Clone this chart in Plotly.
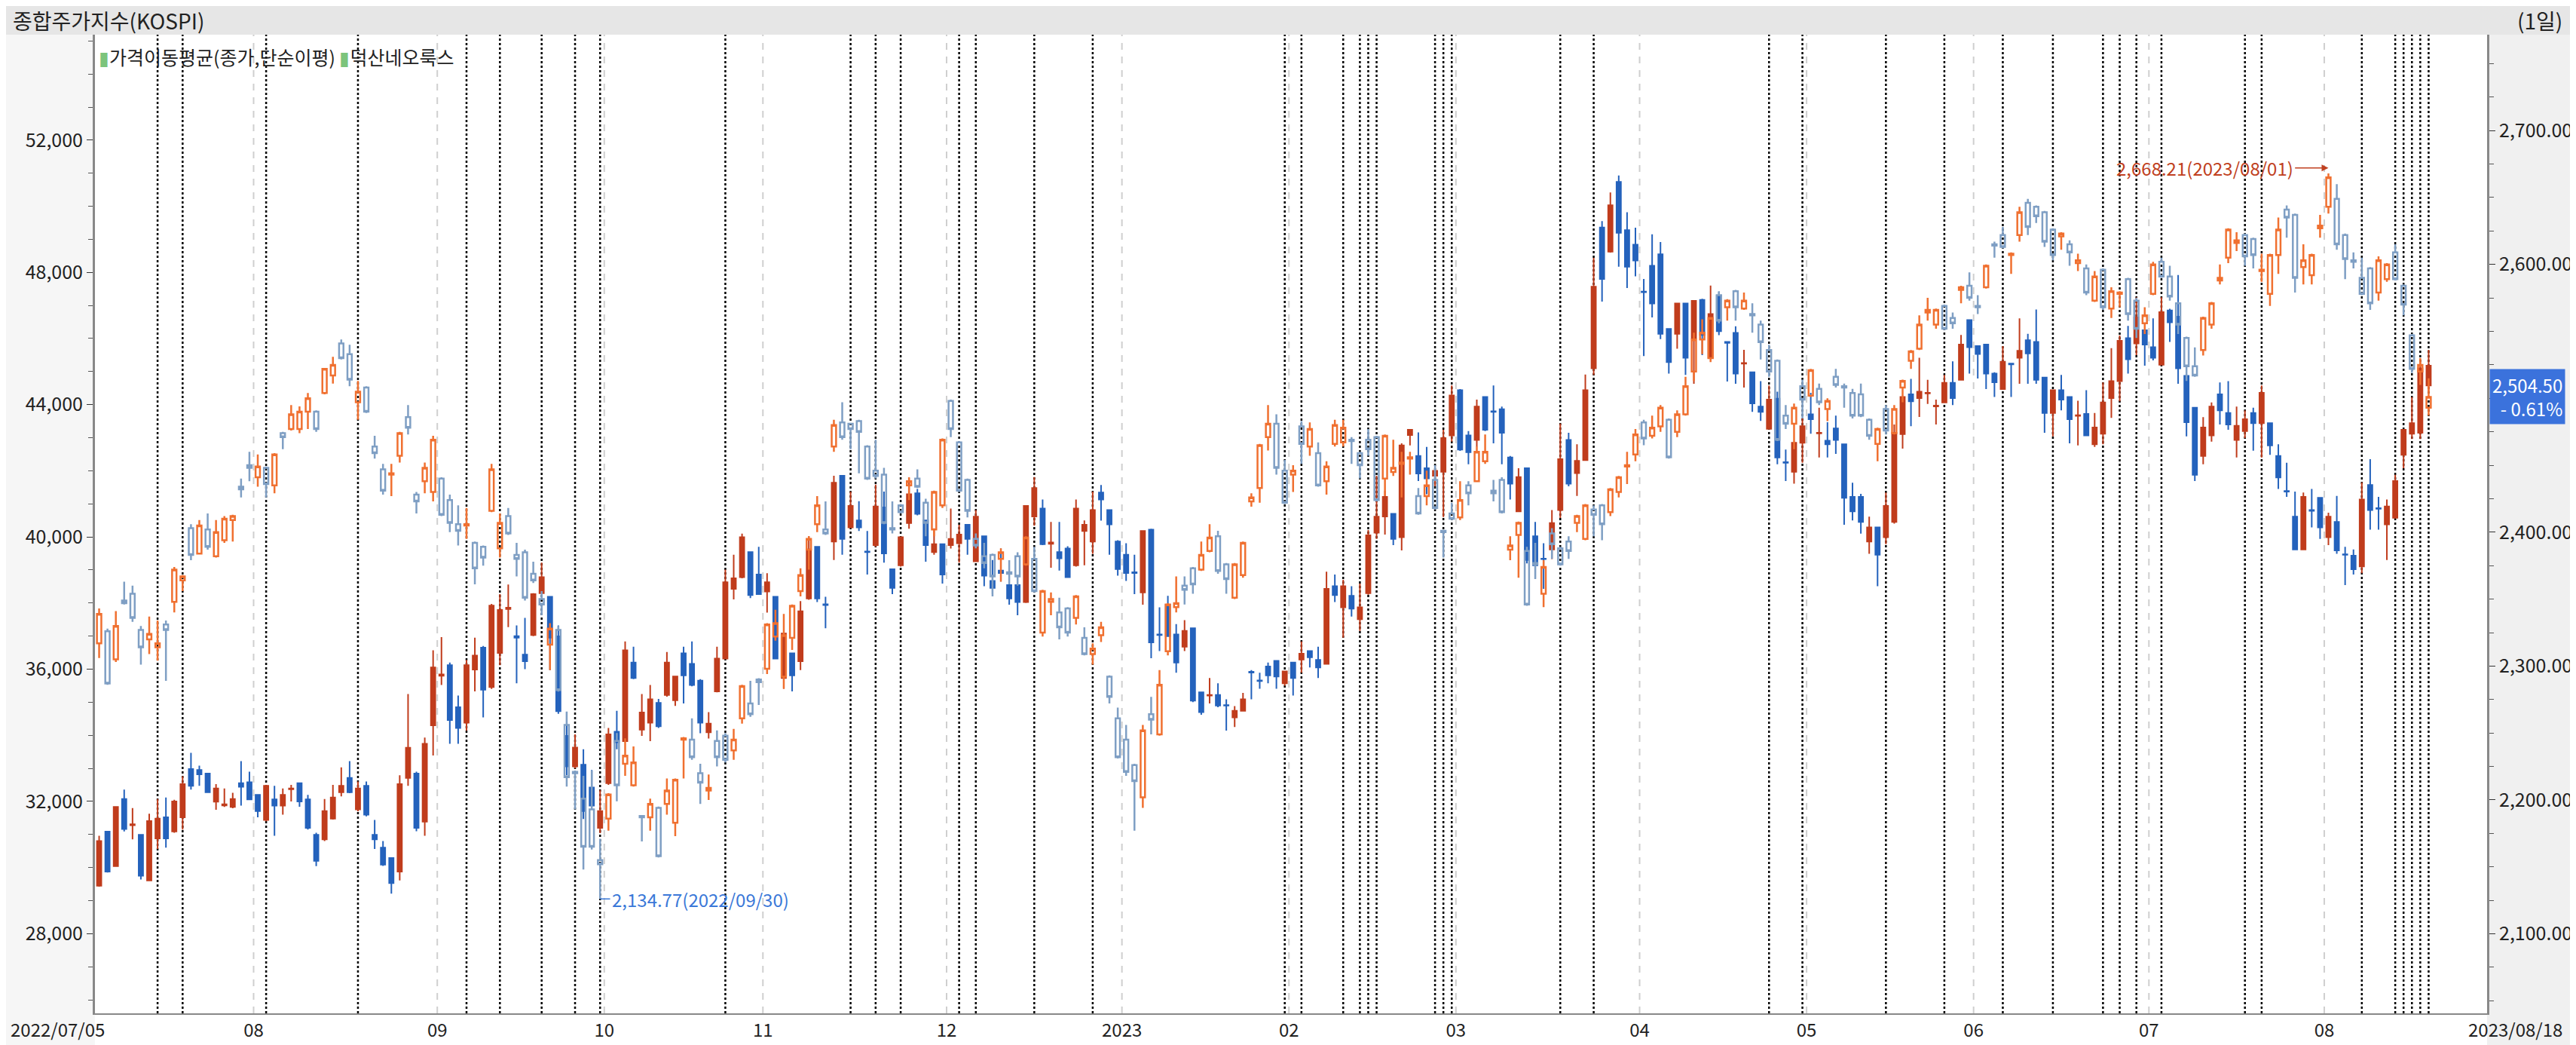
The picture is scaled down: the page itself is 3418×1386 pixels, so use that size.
import plotly.graph_objects as go

# 덕산네오룩스 daily candles, (open, high, low, close), one list per month
dk_2207 = [(29452,30960,29420,30802),(31088,31100,29850,29880),(30040,31850,30020,31835),(32073,32360,31090,31168),
           (31280,31800,30850,31310),(30990,30990,29640,29750),(29610,31630,29600,31405),(30880,32070,30560,31480),
           (31520,32120,30600,30880),(31090,32050,31050,32000),(31520,32760,31150,32520),(32980,33470,32360,32470),
           (32950,33080,32470,32820),(32840,32860,32260,32280),(31990,32520,31750,32390),(31880,32390,31830,31910),
           (31830,32260,31790,32070),(32550,33220,31870,32440),(32580,32900,32040,32060)]
dk_2208 = [(32200,32220,31520,31710),(31440,32500,31400,32470),(32060,32470,30960,31870),(31870,32390,31600,32200),
           (32370,32500,32000,32390),(32550,32560,31840,32000),(32060,32200,31150,31200),(30990,31050,30040,30200),
           (30850,32070,30800,31710),(31480,32500,31450,32120),(32280,33030,32150,32470),(32710,33220,32250,32280),
           (31760,32600,31700,32390),(32470,32600,31550,31600),(30990,31440,30560,30850),(30600,30800,30050,30090),
           (30290,30300,29210,29530),(29880,32790,29610,32520),(32710,35250,32470,33620),(32840,32900,31100,31200),
           (31390,33930,30960,33740),(34300,36570,33390,36050)]
dk_2209 = [(35800,36970,35520,35840),(36120,36200,33740,34460),(34850,35200,33740,34220),(34380,36280,34140,36120),
           (35990,36950,35330,36410),(36650,36700,34540,35380),(35460,37970,35400,37920),(36490,38270,36120,37790),
           (37820,38560,37270,37860),(37000,37320,35570,36950),(36440,37550,36000,36240),(37030,38300,37000,38270),
           (38300,39220,38270,38780),(38190,38200,35970,36950),(36990,37320,34650,34730),(33980,34700,32790,33060),
           (33060,34030,33000,33630),(33110,33580,31470,31710),(32420,32950,31830,31870),(31200,32340,31040,31710)]
dk_2210 = [(32550,34220,32500,34030),(34110,34740,33580,33790),(33820,36840,33800,36570),(36200,36680,35700,35730),
           (34170,35250,33980,34690),(34380,35520,33820,35090),(34980,35100,34220,34270),(35220,36520,35170,36200),
           (35060,35800,34890,35780),(36480,36680,34960,35810),(36160,36840,35480,35520),(35650,35700,34060,34380),
           (34090,34700,33900,34350),(35330,36680,35300,36320),(36320,39010,36300,38630),(38430,39460,38110,38750),
           (38780,40100,38750,39990),(39540,39560,38150,38240),(38860,39700,38250,38270)]
dk_2211 = [(38350,38900,37710,38630),(38190,38200,36300,36320),(35730,37100,35410,37080),(36480,36500,35330,35810),
           (36240,38060,35970,37750),(38140,40020,38100,39620),(39700,39720,38030,38140),(37960,38190,37240,37940),
           (39860,41850,39300,41640),(41850,41860,39460,39940),(40290,41370,40280,40940),(40500,41080,40180,40290),
           (39560,40180,38860,39540),(39750,41580,39700,40920),(40890,41370,39220,39500),(39020,39030,38270,38460),
           (39140,40000,39100,39990),(40420,41770,40250,41290),(41320,41450,40650,40700),(40500,40510,39250,39750),
           (39540,40260,39460,39780),(39780,39800,38590,38860)]
dk_2212 = [(39750,40860,39650,39940),(39810,40370,39220,40070),(40370,40380,39460,39940),(39260,40810,39250,40610),
           (40020,40030,38510,38830),(38670,39300,38270,38460),(38980,39650,38650,38910),(38540,38560,37950,38140),
           (38540,38550,37630,38030),(38030,40960,38000,40940),(40620,41810,40340,41480),(40860,41130,39750,39780),
           (39790,40450,39070,39830),(39540,40450,38980,39350),(39650,39720,38760,38780),(39140,41130,39100,40860),
           (40180,40500,39140,40370),(39860,41370,39490,40810),(41340,41570,40490,41130),(40810,40820,39460,40380),
           (39860,39900,38830,39030)]
dk_2301 = [(39460,39810,38670,38910),(38930,39460,38270,38910),(38320,40200,37950,40180),(40220,40250,36330,36810),
           (37050,37870,36550,37030),(37950,38220,36980,37000),(37050,37360,35890,36200),(36680,37480,36550,37160),
           (37240,37260,35000,35050),(35300,35310,34620,34700),(35200,35730,34960,35220),(35220,35570,34850,34900),
           (34910,35090,34140,34900),(34540,34880,34250,34740),(34740,35280,34720,35090),(35920,35970,35090,35900),
           (35660,35890,35410,35640),(36080,36200,35570,35810),(36250,36260,35410,35780),(35570,35950,35500,35930)]
dk_2302 = [(36200,36210,35200,35730),(36290,36840,35890,36470),(36550,36560,36050,36360),(36280,36680,35730,36050),
           (36160,38950,36150,38430),(38510,38860,38030,38240),(37870,38700,36950,38510),(38220,38510,37590,37830),
           (37510,38590,37160,37870),(38300,40210,38250,40050),(40130,41850,39940,40610),(40620,41400,40070,41210),
           (40700,40710,39750,39940),(39990,42830,39590,42770),(43080,43250,42770,43240),(42450,43160,41690,41920),
           (42080,42720,41290,41770),(41850,42160,41530,42000),(41970,43240,40600,42990),(43070,44580,42880,44280)]
dk_2303 = [(44440,44470,42600,42640),(43070,43200,42200,42560),(42930,44150,42720,43940),(44230,44250,43200,43240),
           (43800,44580,42830,43780),(43860,43940,42200,43150),(42400,42450,41130,41610),(40770,42080,40760,41810),
           (42080,42100,39200,39300),(40020,40450,38750,39140),(39340,39810,38430,39330),(39620,40810,39330,40420),
           (40810,43430,40570,42350),(42930,43150,41530,41610),(41930,42800,41240,42300),(42320,44910,42300,44440),
           (45100,48440,44900,47570),(49360,49550,47120,47800),(48630,50420,48600,50030),(50740,50930,48170,49200),
           (49280,49820,47530,48170),(48840,49350,47880,48360)]
dk_2304 = [(47420,47800,45470,47400),(48200,49150,46640,47060),(48550,48920,45980,46140),(46290,46300,44940,45290),
           (46140,47070,45690,47060),(47060,47070,44900,45420),(46010,47150,44630,47140),(47170,47200,45500,46110),
           (45420,47600,45400,46740),(47300,47410,46100,46220),(45900,45900,44700,45870),(46170,46370,44630,44940),
           (45240,45660,44520,45260),(44980,45000,43780,44040),(43940,44710,43510,43780),(43270,44580,43260,44150),
           (44180,44390,42200,42400),(42260,42640,41690,42240),(41970,42860,41610,42850),(42850,43590,42240,43350)]
dk_2305 = [(43710,44360,43120,43560),(43130,43910,42400,43150),(42910,43470,42400,42800),(43280,43670,42510,42930),
           (42800,42810,40370,41180),(41210,41640,40500,40770),(41210,41300,40100,40450),(39860,40610,39490,40290),
           (40290,40300,38510,39460),(39990,41340,39780,40940),(40450,43400,40400,43150),(43110,44250,42670,44230),
           (44310,44780,43350,44100),(44200,45420,43630,44390),(44340,44750,44020,44360),(43950,44150,43400,43970),
           (44070,44900,44050,44660),(44660,45310,43990,44200),(44750,46110,44740,45820),(46560,46570,44940,45740)]
dk_2306 = [(45770,45780,44790,45530),(45820,45830,44470,44940),(44940,44980,44230,44680),(44470,45770,44450,45300),
           (45240,45250,44230,45220),(45420,46610,44630,45630),(45950,46140,44630,45550),(45900,46880,44630,44750),
           (44820,44830,43150,43750),(43750,44450,43040,44440),(44440,44900,43830,44150),(44230,44240,42830,43560),
           (43660,44120,42770,43680),(43720,44440,43060,43070),(42800,43750,42720,43310),(43120,44670,42800,44070),
           (44200,45710,43600,44710),(44710,46090,44100,45930),(46010,46380,44940,45370),(45850,47250,45500,46640),
           (46250,46260,45180,45820)]
dk_2307 = [(45740,46610,45340,45420),(45210,47250,45200,46800),(46850,46900,45900,46490),(46660,47920,44630,45100),
           (44870,44880,43040,43470),(43910,43920,41690,41880),(42450,43620,42200,43310),(43070,44070,42880,43940),
           (44310,44670,43400,43830),(43750,44710,43240,43400),(42930,43940,42400,43360),(43200,43830,42990,43560),
           (43750,43910,42610,43440),(43440,44580,42400,44360),(43440,43450,42480,42770),(42450,42800,41450,41800),
           (41390,42240,41210,41370),(40610,41370,39600,39620),(39620,41340,39600,41210),(40810,41450,40290,40790),
           (41180,41190,39940,40290)]
dk_2308 = [(39990,40730,39750,40610),(40450,41240,39490,39590),(39470,39700,38540,39460),(39430,39620,38860,39020),
           (39110,41650,38900,41130),(41570,42350,40220,40810),(40870,41210,40220,40850),(40380,41130,39300,40920),
           (40580,41880,40570,41690),(42480,43250,42080,43240),(43120,44230,42960,43440),(43150,45340,42960,45100),
           (44580,45660,44390,45180)]

# 종합주가지수(KOSPI) daily candles, (open, high, low, close)
ks_2207 = [(2317,2343,2306,2339),(2326,2328,2286,2287),(2305,2341,2303,2330),(2349,2363,2346,2347),(2354,2360,2333,2336),
           (2327,2330,2301,2314),(2320,2337,2309,2324),(2314,2334,2304,2317),(2331,2334,2289,2327),(2348,2374,2340,2372),
           (2364,2368,2356,2367),(2403,2406,2379,2383),(2384,2409,2384,2405),(2402,2414,2387,2389),(2382,2409,2381,2400),
           (2394,2412,2392,2410),(2409,2413,2393,2412),(2434,2440,2426,2432),(2450,2460,2438,2448)]
ks_2208 = [(2441,2458,2434,2449),(2448,2449,2426,2436),(2435,2459,2429,2458),(2474,2475,2462,2471),(2477,2495,2476,2488),
           (2477,2494,2474,2490),(2490,2504,2477,2500),(2490,2491,2475,2477),(2504,2522,2503,2522),(2517,2531,2511,2525),
           (2541,2544,2529,2530),(2533,2540,2509,2514),(2497,2513,2484,2505),(2508,2509,2489,2490),(2464,2472,2455,2459),
           (2447,2451,2428,2431),(2443,2451,2427,2444),(2457,2475,2452,2474),(2486,2495,2473,2478),(2428,2430,2414,2423),
           (2438,2452,2429,2448),(2430,2472,2423,2469)]
ks_2209 = [(2440,2441,2412,2413),(2424,2428,2400,2407),(2406,2420,2390,2401),(2405,2418,2395,2406),(2392,2393,2361,2373),
           (2389,2390,2375,2381),(2416,2451,2415,2447),(2388,2414,2381,2407),(2412,2418,2398,2399),(2383,2392,2367,2380),
           (2385,2387,2349,2351),(2369,2378,2362,2364),(2350,2356,2338,2346),(2316,2332,2297,2328),(2327,2330,2281,2282),
           (2256,2266,2210,2217),(2221,2222,2193,2220),(2201,2218,2148,2165),(2193,2222,2163,2165),(2155,2171,2126,2152)]
ks_2210 = [(2186,2205,2177,2204),(2244,2250,2199,2211),(2227,2246,2218,2233),(2211,2240,2210,2228),(2188,2188,2169,2187),
           (2187,2201,2177,2197),(2194,2195,2157,2158),(2197,2216,2189,2207),(2183,2216,2173,2215),(2245,2247,2216,2246),
           (2245,2261,2230,2232),(2220,2227,2197,2213),(2207,2219,2200,2209),(2244,2252,2225,2232),(2248,2250,2228,2230),
           (2237,2253,2230,2245),(2261,2286,2257,2285),(2272,2289,2262,2264),(2290,2291,2271,2288)]
ks_2211 = [(2298,2332,2294,2331),(2322,2342,2319,2332),(2292,2339,2283,2323),(2321,2346,2312,2345),(2356,2373,2352,2368),
           (2387,2397,2372,2395),(2406,2427,2400,2420),(2402,2423,2398,2399),(2464,2484,2460,2480),(2482,2497,2469,2471),
           (2481,2481,2462,2477),(2483,2484,2444,2475),(2464,2465,2439,2440),(2446,2469,2440,2442),(2443,2448,2406,2407),
           (2403,2423,2399,2402),(2420,2421,2414,2415),(2435,2441,2424,2438),(2440,2447,2433,2434),(2422,2425,2397,2407),
           (2402,2431,2397,2430),(2420,2470,2418,2469)]
ks_2212 = [(2498,2499,2471,2477),(2467,2468,2430,2431),(2439,2440,2411,2416),(2395,2399,2388,2390),(2382,2392,2373,2377),
           (2383,2384,2352,2367),(2380,2388,2363,2385),(2370,2379,2361,2369),(2382,2385,2360,2367),(2376,2397,2375,2396),
           (2380,2389,2355,2356),(2325,2357,2322,2356),(2348,2355,2338,2350),(2340,2351,2320,2329),(2343,2344,2322,2325),
           (2336,2353,2331,2352),(2321,2329,2308,2309),(2309,2317,2301,2313),(2323,2333,2318,2329),(2292,2293,2272,2277),
           (2261,2269,2231,2232)]
ks_2301 = [(2245,2256,2218,2221),(2226,2227,2177,2214),(2202,2256,2194,2252),(2264,2277,2249,2260),(2249,2297,2248,2286),
           (2311,2347,2308,2346),(2344,2367,2340,2347),(2360,2367,2346,2357),(2373,2374,2354,2361),(2372,2393,2371,2383),
           (2386,2406,2385,2396),(2397,2401,2369,2371),(2376,2377,2354,2365),(2351,2377,2350,2376),(2368,2393,2366,2392),
           (2423,2429,2419,2426),(2433,2466,2422,2465),(2471,2495,2461,2481),(2481,2488,2443,2448),(2446,2454,2421,2422)]
ks_2302 = [(2443,2450,2430,2446),(2479,2483,2451,2466),(2464,2482,2457,2477),(2459,2467,2434,2435),(2438,2453,2428,2449),
           (2466,2484,2464,2480),(2467,2484,2464,2478),(2469,2471,2451,2468),(2459,2460,2440,2450),(2469,2477,2457,2462),
           (2471,2472,2423,2424),(2440,2473,2427,2472),(2445,2469,2442,2448),(2451,2460,2426,2452),(2455,2460,2443,2456),
           (2427,2433,2413,2414),(2427,2446,2420,2435),(2439,2450,2417,2418),(2401,2401,2381,2400),(2414,2422,2409,2410)]
ks_2303 = [(2411,2438,2409,2424),(2435,2438,2420,2429),(2438,2464,2438,2460),(2453,2473,2451,2460),(2431,2439,2423,2429),
           (2439,2441,2414,2415),(2387,2397,2379,2390),(2398,2408,2366,2407),(2386,2389,2345,2346),(2377,2392,2365,2376),
           (2354,2379,2344,2374),(2399,2403,2380,2391),(2388,2389,2375,2376),(2393,2397,2380,2386),(2407,2413,2400,2412),
           (2395,2421,2394,2420),(2417,2420,2397,2413),(2420,2421,2394,2406),(2415,2433,2412,2432),(2430,2442,2426,2441),
           (2449,2460,2436,2450),(2458,2477,2453,2473)]
ks_2304 = [(2482,2484,2465,2470),(2472,2487,2470,2478),(2479,2495,2475,2493),(2484,2485,2455,2456),(2475,2491,2471,2488),
           (2488,2516,2487,2509),(2520,2549,2513,2544),(2544,2559,2533,2549),(2530,2560,2527,2560),(2577,2580,2556,2558),
           (2568,2574,2558,2573),(2580,2581,2558,2568),(2567,2579,2566,2573),(2563,2571,2549,2562),(2555,2558,2529,2542),
           (2536,2540,2516,2520),(2528,2529,2468,2469),(2487,2495,2477,2481),(2481,2496,2462,2493),(2509,2514,2485,2499)]
ks_2305 = [(2502,2522,2501,2521),(2507,2511,2495,2497),(2492,2500,2483,2498),(2516,2522,2508,2510),(2509,2511,2493,2508),
           (2504,2507,2485,2487),(2503,2511,2486,2487),(2484,2485,2469,2472),(2466,2478,2453,2477),(2492,2495,2473,2476),
           (2474,2495,2473,2492),(2508,2514,2497,2513),(2528,2536,2522,2535),(2537,2562,2536,2555),(2564,2575,2558,2566),
           (2555,2567,2552,2566),(2569,2570,2551,2552),(2560,2564,2552,2556),(2581,2584,2571,2583),(2584,2594,2573,2575)]
ks_2306 = [(2569,2577,2563,2568),(2583,2600,2582,2599),(2615,2617,2605,2614),(2622,2628,2612,2613),(2607,2609,2593,2608),
           (2622,2643,2617,2639),(2646,2649,2622,2628),(2643,2644,2631,2636),(2639,2640,2613,2617),(2626,2627,2603,2607),
           (2621,2624,2611,2623),(2615,2618,2599,2609),(2601,2608,2595,2603),(2597,2600,2577,2579),(2573,2595,2572,2591),
           (2596,2597,2566,2568),(2567,2583,2560,2580),(2578,2580,2568,2579),(2589,2590,2558,2563),(2573,2575,2545,2552),
           (2556,2568,2548,2562)]
ks_2307 = [(2578,2602,2577,2600),(2602,2605,2590,2591),(2591,2599,2573,2576),(2571,2572,2548,2555),(2545,2546,2513,2524),
           (2524,2538,2516,2517),(2536,2561,2532,2560),(2555,2572,2552,2571),(2588,2600,2585,2590),(2605,2627,2601,2626),
           (2616,2624,2610,2618),(2622,2623,2599,2606),(2619,2620,2597,2607),(2595,2608,2587,2596),(2578,2608,2569,2607),
           (2607,2635,2593,2626),(2641,2644,2620,2635),(2637,2638,2579,2590),(2598,2615,2585,2603),(2592,2608,2585,2607),
           (2627,2637,2620,2629)]
ks_2308 = [(2643,2668,2638,2665),(2649,2660,2611,2615),(2622,2623,2589,2604),(2603,2609,2597,2602),(2590,2605,2577,2578),
           (2597,2598,2566,2571),(2579,2606,2573,2603),(2589,2601,2587,2600),(2609,2615,2588,2589),(2584,2585,2562,2570),
           (2547,2548,2519,2522),(2520,2530,2510,2525),(2493,2515,2487,2501)]

month_labels = ["07", "08", "09", "10", "11", "12", "2023", "02", "03", "04", "05", "06", "07", "08"]
event_days = [7, 10, 20, 31, 44, 48, 53, 57, 60, 75, 90, 93, 96, 103, 105, 112, 119, 142, 144, 149, 151, 152,
              153, 160, 161, 162, 175, 179, 200, 204, 214, 221, 228, 234, 240, 242, 244, 247, 257, 259, 271,
              275, 276, 277, 278, 279]

dk_months = [dk_2207, dk_2208, dk_2209, dk_2210, dk_2211, dk_2212, dk_2301, dk_2302, dk_2303, dk_2304,
             dk_2305, dk_2306, dk_2307, dk_2308]
ks_months = [ks_2207, ks_2208, ks_2209, ks_2210, ks_2211, ks_2212, ks_2301, ks_2302, ks_2303, ks_2304,
             ks_2305, ks_2306, ks_2307, ks_2308]

dk = [row for m in dk_months for row in m]
ks = [row for m in ks_months for row in m]
x = list(range(len(dk)))

month_start = []
n = 0
for m in dk_months:
    month_start.append(n)
    n += len(m)

FONT = "Liberation Sans Narrow, Noto Sans CJK KR, sans-serif"
KFONT = "Noto Sans CJK KR"

fig = go.Figure()

fig.add_trace(go.Candlestick(
    x=x, open=[r[0] for r in dk], high=[r[1] for r in dk], low=[r[2] for r in dk], close=[r[3] for r in dk],
    increasing=dict(line=dict(color="#c03c1c", width=2), fillcolor="#c03c1c"),
    decreasing=dict(line=dict(color="#2462bc", width=2), fillcolor="#2462bc"),
    whiskerwidth=0, yaxis="y", showlegend=False, name="덕산네오룩스"))

fig.add_trace(go.Candlestick(
    x=x, open=[r[0] for r in ks], high=[r[1] for r in ks], low=[r[2] for r in ks], close=[r[3] for r in ks],
    increasing=dict(line=dict(color="#f07030", width=2.5), fillcolor="rgba(0,0,0,0)"),
    decreasing=dict(line=dict(color="#7f9fc4", width=2.5), fillcolor="rgba(0,0,0,0)"),
    whiskerwidth=0, yaxis="y2", showlegend=False, name="종합주가지수"))

shapes = []
# month separators
for s in month_start[1:]:
    shapes.append(dict(type="line", xref="x", yref="paper", x0=s - 0.5, x1=s - 0.5, y0=0, y1=1,
                       line=dict(color="#cfcfcf", width=2, dash="dash"), layer="below"))
# event lines
for d in event_days:
    shapes.append(dict(type="line", xref="x", yref="paper", x0=d, x1=d, y0=0, y1=1,
                       line=dict(color="black", width=2.5, dash="dot"), layer="below"))
# header bar and side panels
shapes.append(dict(type="rect", xref="paper", yref="paper", x0=-0.04, x1=1.04, y0=1, y1=1.03,
                   fillcolor="#e6e6e6", line=dict(width=0), layer="below"))
shapes.append(dict(type="rect", xref="paper", yref="paper", x0=1, x1=1.04, y0=-0.035, y1=1,
                   fillcolor="#f0f0f0", line=dict(width=0), layer="below"))
shapes.append(dict(type="rect", xref="paper", yref="paper", x0=-0.04, x1=0, y0=-0.035, y1=1,
                   fillcolor="#f6f6f6", line=dict(width=0), layer="below"))

# extremes
ks_low_i = min(range(len(ks)), key=lambda i: ks[i][2])
ks_high_i = max(range(len(ks)), key=lambda i: ks[i][1])
annotations = [
    dict(xref="paper", yref="paper", x=-0.035, y=1.015, xanchor="left", yanchor="middle", showarrow=False,
         text="종합주가지수(KOSPI)", font=dict(family=KFONT, size=28, color="#222")),
    dict(xref="paper", yref="paper", x=1.032, y=1.015, xanchor="right", yanchor="middle", showarrow=False,
         text="(1일)", font=dict(family=KFONT, size=28, color="#222")),
    dict(xref="paper", yref="paper", x=0.001, y=0.993, xanchor="left", yanchor="top", showarrow=False,
         text="<span style='color:#7cc47c'>▮</span>가격이동평균(종가,단순이평) "
              "<span style='color:#7cc47c'>▮</span>덕산네오룩스",
         font=dict(family=KFONT, size=25, color="#222")),
    dict(x=ks_low_i, y=ks[ks_low_i][2], yref="y2", ax=ks_low_i + 1.2, ay=ks[ks_low_i][2], axref="x", ayref="y2",
         showarrow=True, arrowhead=0, arrowwidth=1.5, arrowcolor="#3a78d8", xanchor="left",
         text="2,134.77(2022/09/30)", font=dict(family=FONT, size=24, color="#3a78d8")),
    dict(x=ks_high_i, y=ks[ks_high_i][1] + 4, yref="y2", ax=ks_high_i - 4, ay=ks[ks_high_i][1] + 4,
         axref="x", ayref="y2", showarrow=True, arrowhead=2, arrowsize=1.2, arrowwidth=1.5,
         arrowcolor="#c04020", xanchor="right",
         text="2,668.21(2023/08/01)", font=dict(family=FONT, size=24, color="#c04020")),
    dict(xref="paper", x=1.001, y=ks[-1][3], yref="y2", xanchor="left", yanchor="middle", showarrow=False,
         text="2,504.50<br>- 0.61%", bgcolor="#3b72dc", font=dict(family=FONT, size=24, color="white"),
         borderpad=3, align="right"),
    dict(xref="paper", yref="paper", x=-0.036, y=-0.016, xanchor="left", yanchor="middle", showarrow=False,
         text="2022/07/05", font=dict(family=FONT, size=24, color="#222")),
    dict(xref="paper", yref="paper", x=1.032, y=-0.016, xanchor="right", yanchor="middle", showarrow=False,
         text="2023/08/18", font=dict(family=FONT, size=24, color="#222")),
]

fig.update_layout(
    width=3418, height=1386,
    margin=dict(l=118, r=126, t=38, b=41),
    paper_bgcolor="white", plot_bgcolor="white",
    boxgap=0.25,
    shapes=shapes, annotations=annotations,
    xaxis=dict(range=[-0.5, 286], rangeslider=dict(visible=False), showgrid=False, zeroline=False,
               tickvals=[s - 0.5 for s in month_start[1:]], ticktext=month_labels[1:],
               ticks="", tickfont=dict(family=FONT, size=24, color="#222"),
               showline=True, linecolor="#888", linewidth=2),
    yaxis=dict(range=[25590, 55190], side="left", showgrid=False, zeroline=False,
               tickvals=list(range(28000, 53000, 4000)), tickformat=",d", ticks="outside", ticklen=8,
               tickcolor="#333", tickfont=dict(family=FONT, size=25, color="#222"),
               minor=dict(dtick=1000, ticks="outside", ticklen=6, tickcolor="#555"),
               showline=True, linecolor="#888", linewidth=3),
    yaxis2=dict(range=[2040.6, 2771.6], side="right", overlaying="y", showgrid=False, zeroline=False,
                tickvals=[v for v in range(2100, 2701, 100) if v != 2500], tickformat=",.2f",
                ticks="outside", ticklen=8,
                tickcolor="#333", tickfont=dict(family=FONT, size=25, color="#222"),
                minor=dict(dtick=25, ticks="outside", ticklen=6, tickcolor="#555"),
                showline=True, linecolor="#888", linewidth=3),
)

fig.write_html("out.html")
